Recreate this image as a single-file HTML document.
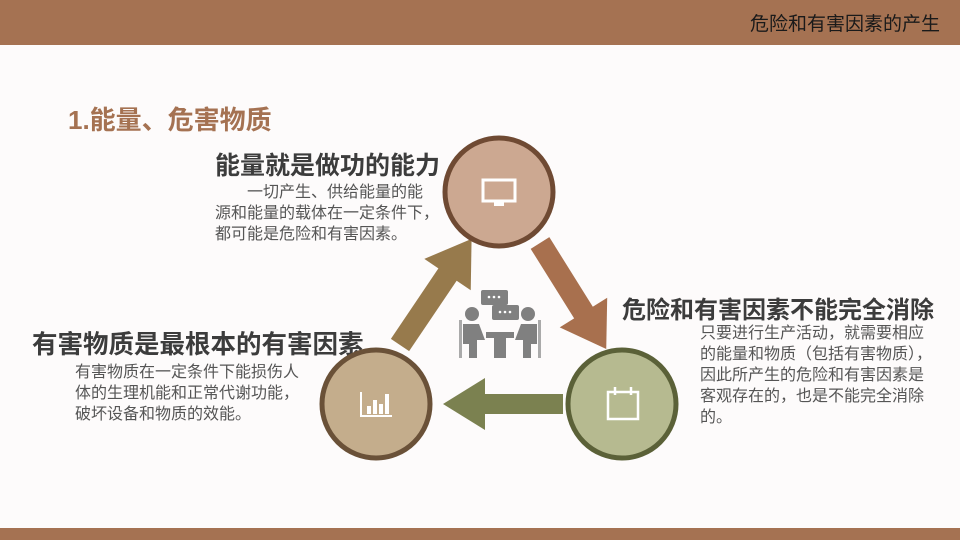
<!DOCTYPE html>
<html><head><meta charset="utf-8"><style>
*{margin:0;padding:0}
body{width:960px;height:540px;background:#fdfbfb;position:relative;overflow:hidden;font-family:"Liberation Sans","Noto Sans CJK SC",sans-serif}
.t{position:absolute;white-space:nowrap}
.h{font-weight:bold;font-size:24px;color:#3c3c3c}
.p{font-size:16px;color:#555;line-height:21px}
</style></head><body>
<div style="position:absolute;left:0;top:0;width:960px;height:45px;background:#a57252"></div>
<div class="t" style="right:20px;top:9px;font-size:19px;color:#1a1a1a">危险和有害因素的产生</div>
<div style="position:absolute;left:0;top:528px;width:960px;height:12px;background:#a57252"></div>
<div class="t" style="left:68px;top:100px;font-size:26px;font-weight:bold;color:#a57252">1.能量、危害物质</div>
<div class="t h" style="left:215px;top:146px;font-size:25px">能量就是做功的能力</div>
<div class="t p" style="left:215px;top:182px">　　一切产生、供给能量的能<br>源和能量的载体在一定条件下，<br>都可能是危险和有害因素。</div>
<div class="t h" style="left:32px;top:324px;font-size:25.5px">有害物质是最根本的有害因素</div>
<div class="t p" style="left:75px;top:362px">有害物质在一定条件下能损伤人<br>体的生理机能和正常代谢功能，<br>破坏设备和物质的效能。</div>
<div class="t h" style="left:622px;top:290px">危险和有害因素不能完全消除</div>
<div class="t p" style="left:700px;top:323px">只要进行生产活动，就需要相应<br>的能量和物质（包括有害物质），<br>因此所产生的危险和有害因素是<br>客观存在的，也是不能完全消除<br>的。</div>
<svg width="960" height="540" style="position:absolute;left:0;top:0">
<g transform="translate(400,345) rotate(-56)"><rect x="0" y="-11" width="88" height="22" fill="#977a4c"/><polygon points="85,-28 128,0 85,28" fill="#977a4c"/></g>
<g transform="translate(540,243) rotate(58)"><rect x="0" y="-11" width="85" height="22" fill="#a8704e"/><polygon points="82,-28 125,0 82,28" fill="#a8704e"/></g>
<g transform="translate(563,404) rotate(180)"><rect x="0" y="-10" width="80" height="20" fill="#7b8150"/><polygon points="78,-26 120,0 78,26" fill="#7b8150"/></g>
<circle cx="499" cy="192" r="54" fill="#cca891" stroke="#6f4a33" stroke-width="5"/>
<circle cx="376" cy="404" r="54" fill="#c4ad8c" stroke="#6a5138" stroke-width="5"/>
<circle cx="622" cy="404" r="54" fill="#b6ba90" stroke="#5b6138" stroke-width="5"/>
<rect x="483" y="180" width="32" height="21" fill="none" stroke="#fff" stroke-width="3"/><rect x="494" y="202" width="10" height="4" fill="#fff"/>
<path d="M361 392 V416 H392" fill="none" stroke="#fff" stroke-width="2"/><rect x="367" y="406" width="4" height="8" fill="#fff"/><rect x="373" y="400" width="4" height="14" fill="#fff"/><rect x="379" y="404" width="4" height="10" fill="#fff"/><rect x="385" y="394" width="4" height="20" fill="#fff"/>
<rect x="608" y="392" width="30" height="27" fill="none" stroke="#fff" stroke-width="2.5"/><line x1="615" y1="387" x2="615" y2="395" stroke="#fff" stroke-width="2.5"/><line x1="631" y1="387" x2="631" y2="395" stroke="#fff" stroke-width="2.5"/>
<g fill="#808080"><rect x="481" y="290" width="27" height="15" rx="2"/><rect x="492" y="305" width="27" height="15" rx="2"/>
<circle cx="472" cy="314" r="7"/><circle cx="528" cy="314" r="7"/>
<path d="M463 324 h16 l6 16 h-8 v18 h-8 v-14 h-6z"/><path d="M537 324 h-16 l-6 16 h8 v18 h8 v-14 h6z"/>
<rect x="486" y="332" width="28" height="6"/><rect x="494" y="338" width="12" height="20"/></g>
<g fill="#aaa"><rect x="459" y="320" width="3" height="38"/><rect x="538" y="320" width="3" height="38"/></g>
<g fill="#fff"><circle cx="489" cy="297" r="1.3"/><circle cx="494" cy="297" r="1.3"/><circle cx="499" cy="297" r="1.3"/><circle cx="500" cy="312" r="1.3"/><circle cx="505" cy="312" r="1.3"/><circle cx="510" cy="312" r="1.3"/></g>
</svg>
</body></html>
